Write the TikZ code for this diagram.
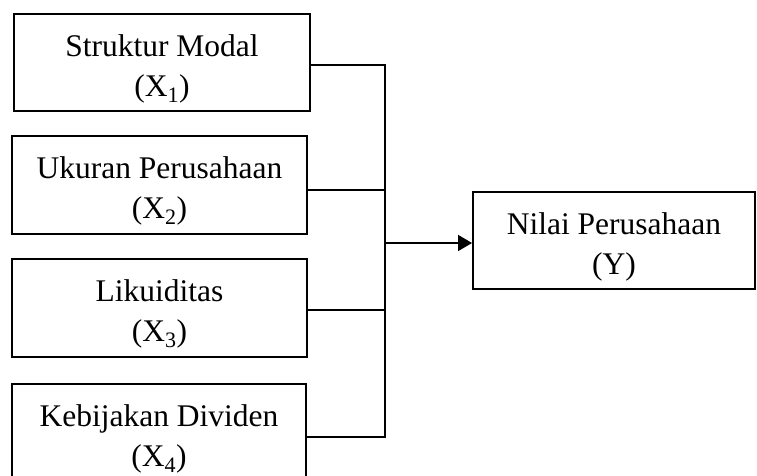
\documentclass[tikz,border=0pt]{standalone}
\usepackage{fontspec}
\setmainfont{Liberation Serif}
\usetikzlibrary{arrows.meta}
% tall strut on the first line pushes the text block slightly downwards
\newcommand{\dropstrut}{\rule{0pt}{34pt}}
\begin{document}
\begin{tikzpicture}[x=1pt,y=-1pt,
  varbox/.style={draw, line width=1.9pt, align=center, inner sep=0pt,
    font=\fontsize{31.5}{40}\selectfont},
  link/.style={line width=1.5pt},
  arrowlink/.style={line width=1.5pt, -{Triangle[length=14pt,width=16pt]}}]
\useasboundingbox (0,0) rectangle (757,476);
\clip (0,0) rectangle (757,476);
% independent variables
\node[varbox, minimum width=296pt, minimum height=97pt] (x1) at (162,62.5)
  {\dropstrut Struktur Modal\\(X\textsubscript{1})};
\node[varbox, minimum width=295pt, minimum height=98pt] (x2) at (159.5,185)
  {\dropstrut Ukuran Perusahaan\\(X\textsubscript{2})};
\node[varbox, minimum width=295pt, minimum height=98pt] (x3) at (159.5,308)
  {\dropstrut Likuiditas\\(X\textsubscript{3})};
\node[varbox, minimum width=294pt, minimum height=98pt] (x4) at (159,433)
  {\dropstrut Kebijakan Dividen\\(X\textsubscript{4})};
% dependent variable
\node[varbox, minimum width=282pt, minimum height=97pt] (y) at (614,240.5)
  {\dropstrut Nilai Perusahaan\\(Y)};
% connection points, slightly below the box centres
\coordinate (p1) at ([yshift=-2.5pt]x1.east);
\coordinate (p2) at ([yshift=-5pt]x2.east);
\coordinate (p3) at ([yshift=-2pt]x3.east);
\coordinate (p4) at ([yshift=-4pt]x4.east);
\coordinate (py) at ([yshift=-2.5pt]y.west);
\coordinate (bus) at (385,0);
% collecting bus
\draw[link] (p1) -- (bus |- p1) -- (bus |- p4) -- (p4);
\draw[link] (p2) -- (bus |- p2);
\draw[link] (p3) -- (bus |- p3);
\draw[arrowlink] (bus |- py) -- (py);
\end{tikzpicture}
\end{document}
